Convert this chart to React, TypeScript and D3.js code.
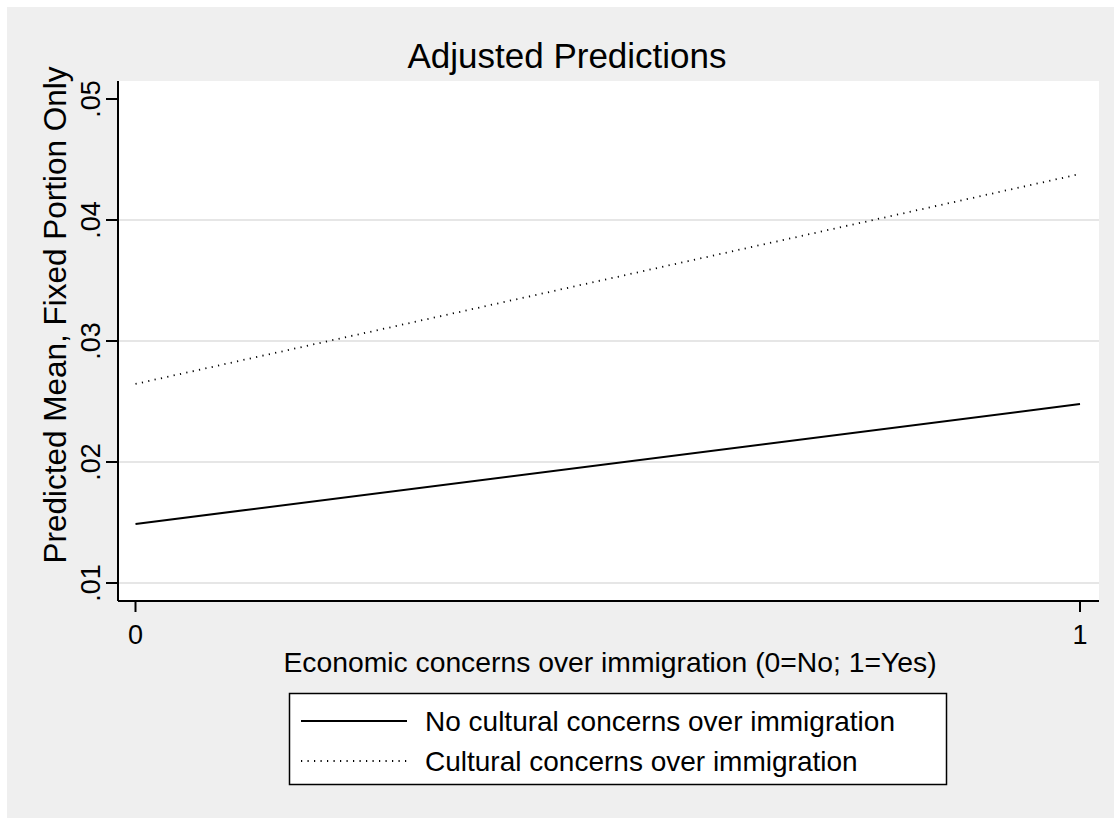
import React from "react";
import * as d3 from "d3";

const xCategories = [0, 1];
const xTickLabels = ["0", "1"];
const yTicks = [0.01, 0.02, 0.03, 0.04, 0.05];
const yTickLabels = [".01", ".02", ".03", ".04", ".05"];
const gridTicks = [0.01, 0.02, 0.03, 0.04];
const noCulturalValues = [0.01488, 0.02479];
const culturalValues = [0.02645, 0.0438];
const seriesNames = ["No cultural concerns over immigration", "Cultural concerns over immigration"];

const FONT = "'Liberation Sans', Arial, Helvetica, sans-serif";

export default function App() {
  const plot = { left: 118, right: 1099, top: 81, bottom: 601 };
  const x = d3.scaleLinear().domain([0, 1]).range([135.5, 1080]);
  const y = d3.scaleLinear().domain([0.01, 0.05]).range([583, 99]);
  const line = d3
    .line<number>()
    .x((_, i) => x(xCategories[i]))
    .y((d) => y(d));

  const series = [
    { name: seriesNames[0], values: noCulturalValues, dash: undefined as string | undefined, width: 2 },
    { name: seriesNames[1], values: culturalValues, dash: "1.2,5.3", width: 1.8 },
  ];

  return (
    <svg
      width={1114}
      height={818}
      style={{ position: "absolute", left: 0, top: 0, display: "block" }}
      fontFamily={FONT}
    >
      <rect x={0} y={0} width={1114} height={818} fill="#ffffff" />
      <rect x={7} y={7} width={1107} height={811} fill="#efefef" />
      <rect
        x={plot.left}
        y={plot.top}
        width={plot.right - plot.left}
        height={plot.bottom - plot.top}
        fill="#ffffff"
      />
      {gridTicks.map((t) => (
        <line
          key={"g" + t}
          x1={plot.left}
          x2={plot.right}
          y1={y(t)}
          y2={y(t)}
          stroke="#e6e6e6"
          strokeWidth={2}
        />
      ))}
      {/* title */}
      <text x={567} y={68} textAnchor="middle" fontSize={35} fill="#000">
        Adjusted Predictions
      </text>
      {/* y axis */}
      <line x1={plot.left} x2={plot.left} y1={plot.top} y2={plot.bottom} stroke="#000" strokeWidth={2} />
      {yTicks.map((t, i) => (
        <g key={"yt" + t}>
          <line x1={106} x2={plot.left} y1={y(t)} y2={y(t)} stroke="#000" strokeWidth={2} />
          <text
            transform={`translate(100,${y(t)}) rotate(-90)`}
            textAnchor="middle"
            fontSize={27}
            fill="#000"
          >
            {yTickLabels[i]}
          </text>
        </g>
      ))}
      <text
        transform={`translate(66,315) rotate(-90)`}
        textAnchor="middle"
        fontSize={31.5}
        fill="#000"
      >
        Predicted Mean, Fixed Portion Only
      </text>
      {/* x axis */}
      <line x1={plot.left} x2={plot.right} y1={plot.bottom} y2={plot.bottom} stroke="#000" strokeWidth={2} />
      {xCategories.map((c, i) => (
        <g key={"xt" + c}>
          <line x1={x(c)} x2={x(c)} y1={plot.bottom} y2={612} stroke="#000" strokeWidth={2} />
          <text x={x(c)} y={644} textAnchor="middle" fontSize={27} fill="#000">
            {xTickLabels[i]}
          </text>
        </g>
      ))}
      <text x={610} y={672} textAnchor="middle" fontSize={28.3} fill="#000">
        Economic concerns over immigration (0=No; 1=Yes)
      </text>
      {/* lines */}
      {series.map((s) => (
        <path
          key={s.name}
          d={line(s.values) || ""}
          fill="none"
          stroke="#000"
          strokeWidth={s.width}
          strokeDasharray={s.dash}
        />
      ))}
      {/* legend */}
      <rect x={289.5} y={693.5} width={657} height={91} fill="#ffffff" stroke="#000" strokeWidth={1.5} />
      {series.map((s, i) => (
        <g key={"lg" + i}>
          <line
            x1={301}
            x2={407}
            y1={721 + i * 40}
            y2={721 + i * 40}
            stroke="#000"
            strokeWidth={s.width}
            strokeDasharray={s.dash}
          />
          <text x={425} y={731 + i * 40} fontSize={28} fill="#000">
            {s.name}
          </text>
        </g>
      ))}
    </svg>
  );
}
